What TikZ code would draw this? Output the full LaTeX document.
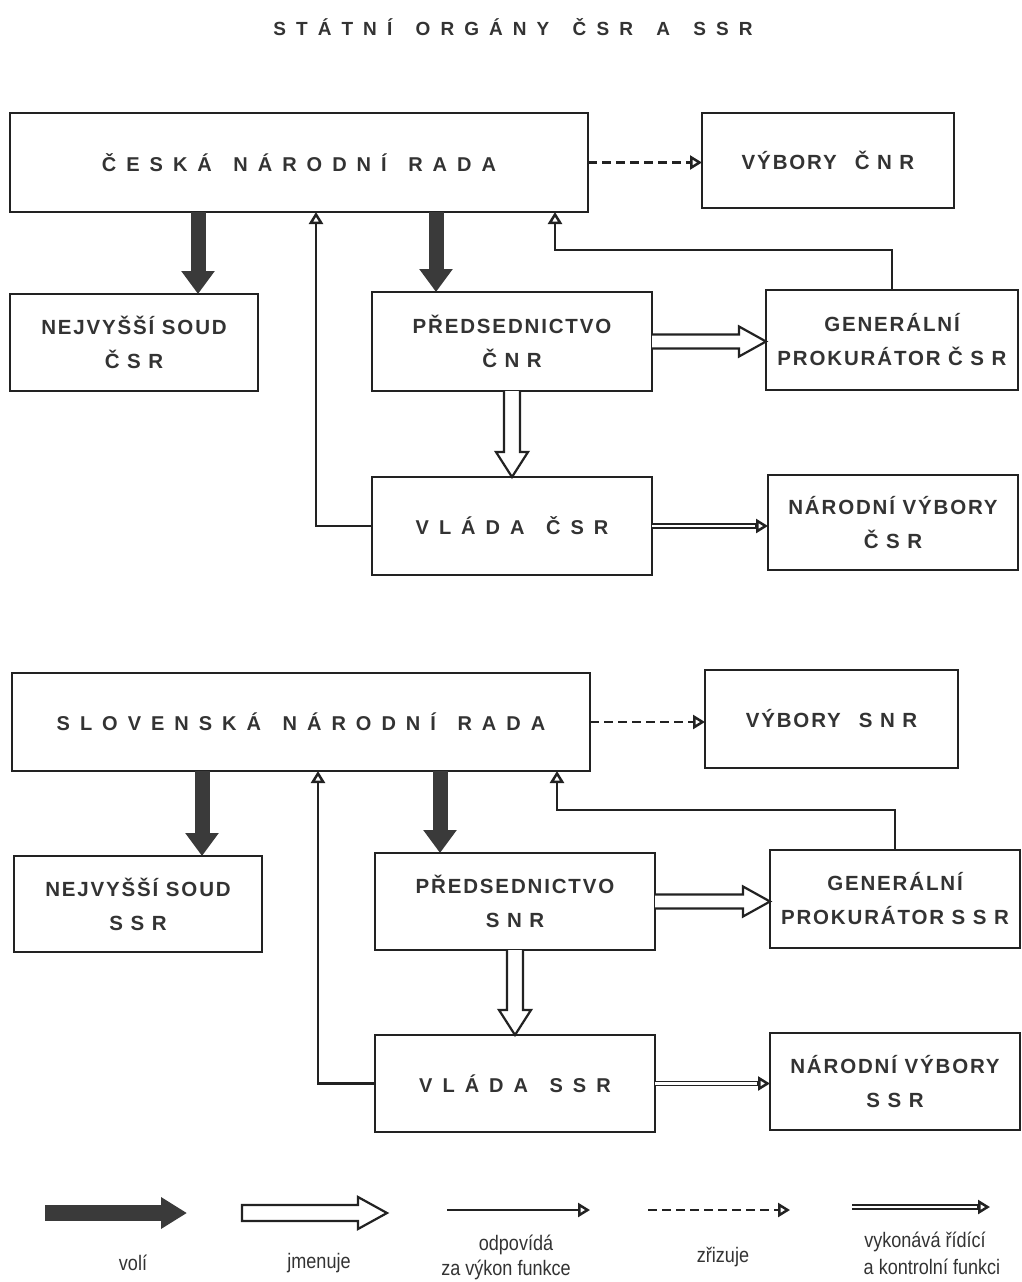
\documentclass[tikz,border=0pt]{standalone}
\usepackage{fontspec}
\setmainfont{Liberation Sans}
\newfontfamily\condfont{Liberation Sans}[FakeStretch=0.86]
\usetikzlibrary{arrows.meta,calc}
\definecolor{ink}{HTML}{222222}
\definecolor{txt}{HTML}{333333}
\definecolor{dark}{HTML}{3A3A3A}
\newcommand\boxfnt{\fontsize{20.5}{34}\selectfont\bfseries\addfontfeature{LetterSpace=9}}
\newcommand\widefnt{\fontsize{20}{24}\selectfont\bfseries\addfontfeature{LetterSpace=50}}
\newcommand\legfnt{\condfont\fontsize{21}{26}\selectfont}
\newcommand\hollowH[2]{\draw[hol] ($(#1)+(0,-7)$) -- ($(#2)+(-27,-7)$) -- ($(#2)+(-27,-15)$) -- (#2) -- ($(#2)+(-27,15)$) -- ($(#2)+(-27,7)$) -- ($(#1)+(0,7)$);}
\newcommand\hollowV[2]{\draw[hol] ($(#1)+(-8,0)$) -- ($(#2)+(-8,-25)$) -- ($(#2)+(-16,-25)$) -- (#2) -- ($(#2)+(16,-25)$) -- ($(#2)+(8,-25)$) -- ($(#1)+(8,0)$);}
\newcommand\dbl[2]{\draw[dblline] (#1) -- ($(#2)+(-12,0)$); \draw[odp] ($(#2)+(-13,0)$) -- (#2);}
\begin{document}
\begin{tikzpicture}[x=1pt,y=-1pt,
  box/.style={draw=ink, line width=2.8pt, rectangle, inner sep=0pt, outer sep=0pt, text=txt, font=\boxfnt, align=center},
  wbox/.style={box, font=\widefnt},
  vol/.style={draw=dark, line width=15pt, -{Triangle[length=23pt,width=32pt]}},
  hol/.style={draw=ink, line width=2.2pt, fill=white, line join=miter},
  odp/.style={draw=ink, line width=2.5pt, -{Triangle[open,length=12pt,width=14pt,fill=white]}},
  zri/.style={draw=ink, line width=2.5pt, dash pattern=on 9pt off 5pt, -{Triangle[open,length=12pt,width=14pt,fill=white]}},
  dblline/.style={draw=ink, line width=1.7pt, double=white, double distance=2.4pt},
  leg/.style={text=txt, font=\legfnt, align=center, inner sep=0pt}]
\useasboundingbox[fill=white] (0,0) rectangle (1022,1282);

\node[text=txt, font=\fontsize{19}{22}\selectfont\bfseries\addfontfeature{LetterSpace=53}] (title) at (513,27) {STÁTNÍ\hspace{8pt} ORGÁNY\hspace{8pt} ČSR\hspace{8pt} A\hspace{8pt} SSR};

% ---------- ČSR ----------
\node[wbox, minimum width=578, minimum height=99] (cnr) at (299,162.5) {ČESKÁ\hspace{6pt} NÁRODNÍ\hspace{6pt} RADA};
\node[box, minimum width=252, minimum height=95] (vcnr) at (828,160.5) {VÝBORY\hspace{18pt}Č N R};
\node[box, minimum width=248, minimum height=97] (soudc) at (134,342.5) {NEJVYŠŠÍ SOUD\\Č S R};
\node[box, minimum width=280, minimum height=99] (predc) at (512,341.5) {PŘEDSEDNICTVO\\Č N R};
\node[box, minimum width=252, minimum height=100] (genc) at (892,340) {GENERÁLNÍ\\PROKURÁTOR Č S R};
\node[wbox, minimum width=280, minimum height=98] (vladac) at (512,526) {VLÁDA\hspace{6pt} ČSR};
\node[box, minimum width=250, minimum height=95] (nvc) at (893,522.5) {NÁRODNÍ VÝBORY\\Č S R};

\coordinate (va1) at ($(soudc.north west)+(188,0)$);
\coordinate (va2) at ($(predc.north west)+(64,0)$);
\draw[vol] (va1 |- cnr.south) -- (va1);
\draw[vol] (va2 |- cnr.south) -- (va2);
\coordinate (dz1) at (vcnr.west |- cnr.east);
\draw[zri] (cnr.east) -- (dz1);
\coordinate (hh1) at (genc.west |- predc.east);
\hollowH{predc.east}{hh1}
\hollowV{predc.south}{vladac.north}
\coordinate (dd1) at (nvc.west |- vladac.east);
\dbl{vladac.east}{dd1}
\draw[odp] (vladac.west) -| ($(cnr.south west)+(306,0)$);
\draw[odp] (genc.north) -- ++(0,-40) -| ($(cnr.south west)+(545,0)$);

% ---------- SSR ----------
\node[wbox, minimum width=578, minimum height=98] (snr) at (301,722) {SLOVENSKÁ\hspace{6pt} NÁRODNÍ\hspace{6pt} RADA};
\node[box, minimum width=253, minimum height=98] (vsnr) at (831.5,719) {VÝBORY\hspace{18pt}S N R};
\node[box, minimum width=248, minimum height=96] (souds) at (138,904) {NEJVYŠŠÍ SOUD\\S S R};
\node[box, minimum width=280, minimum height=97] (preds) at (515,901.5) {PŘEDSEDNICTVO\\S N R};
\node[box, minimum width=250, minimum height=98] (gens) at (895,899) {GENERÁLNÍ\\PROKURÁTOR S S R};
\node[wbox, minimum width=280, minimum height=97] (vladas) at (515,1083.5) {VLÁDA\hspace{6pt} SSR};
\node[box, minimum width=250, minimum height=97] (nvs) at (895,1081.5) {NÁRODNÍ VÝBORY\\S S R};

\coordinate (vb1) at ($(souds.north west)+(188,0)$);
\coordinate (vb2) at ($(preds.north west)+(65,0)$);
\draw[vol] (vb1 |- snr.south) -- (vb1);
\draw[vol] (vb2 |- snr.south) -- (vb2);
\coordinate (dz2) at (vsnr.west |- snr.east);
\draw[zri] (snr.east) -- (dz2);
\coordinate (hh2) at (gens.west |- preds.east);
\hollowH{preds.east}{hh2}
\coordinate (hv2) at (preds.south |- vladas.north);
\hollowV{preds.south}{hv2}
\coordinate (dd2) at (nvs.west |- vladas.east);
\dbl{vladas.east}{dd2}
\draw[odp] (vladas.west) -| ($(snr.south west)+(306,0)$);
\draw[odp] (gens.north) -- ++(0,-40) -| ($(snr.south west)+(545,0)$);

% ---------- legend ----------
\coordinate (l1s) at (45,1213);  \coordinate (l1e) at (187,1213);
\coordinate (l2s) at (242,1213); \coordinate (l2e) at (387,1213);
\coordinate (l3s) at (447,1210); \coordinate (l3e) at (590,1210);
\coordinate (l4s) at (648,1210); \coordinate (l4e) at (790,1210);
\coordinate (l5s) at (852,1207); \coordinate (l5e) at (990,1207);
\draw[vol, -{Triangle[length=26pt,width=30pt]}, line width=16pt] (l1s) -- (l1e);
\draw[hol] ($(l2s)+(0,-8)$) -- ($(l2e)+(-29,-8)$) -- ($(l2e)+(-29,-16)$) -- (l2e) -- ($(l2e)+(-29,16)$) -- ($(l2e)+(-29,8)$) -- ($(l2s)+(0,8)$) -- cycle;
\draw[odp] (l3s) -- (l3e);
\draw[zri] (l4s) -- (l4e);
\dbl{l5s}{l5e}

\node[leg] (t1) at (133,1263) {volí};
\node[leg] (t2) at (319,1263) {jmenuje};
\node[leg] (t3) at (516,1245) {odpovídá};
\node[leg] (t3b) at (506,1270) {za výkon funkce};
\node[leg] (t4) at (723,1257) {zřizuje};
\node[leg] (t5) at (925,1242) {vykonává řídící};
\node[leg] (t5b) at (932,1267) {a kontrolní funkci};
\end{tikzpicture}
\end{document}
